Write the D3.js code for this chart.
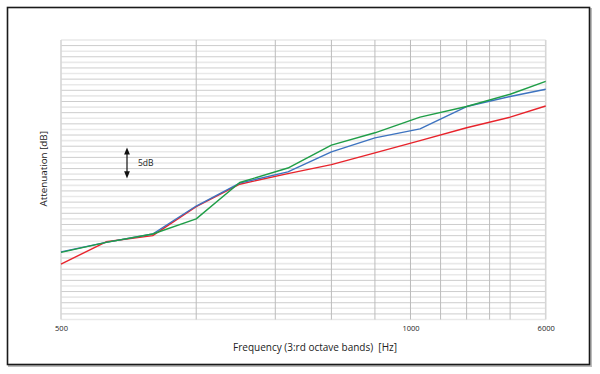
<!DOCTYPE html>
<html>
<head>
<meta charset="utf-8">
<script src="https://cdn.jsdelivr.net/npm/d3@7"></script>
<style>
  html, body { margin: 0; padding: 0; background: #fff; }
  svg { display: block; }
  text { font-family: "Open Sans", "DejaVu Sans", sans-serif; fill: #222; }
</style>
</head>
<body>
<svg id="chart" width="600" height="374"></svg>
<script>
// ---- data ----
const frequencies = [500, 630, 800, 1000, 1250, 1600, 2000, 2500, 3150, 4000, 5000, 6000];
const redValues   = [9.9, 13.9, 15.0, 20.2, 24.2, 26.1, 27.7, 29.8, 32.0, 34.3, 36.2, 38.2];
const blueValues  = [12.1, 13.8, 15.3, 20.3, 24.4, 26.4, 30.0, 32.5, 34.1, 38.1, 39.9, 41.2];
const greenValues = [12.0, 13.8, 15.3, 18.0, 24.5, 27.1, 31.2, 33.4, 36.2, 38.1, 40.3, 42.6];
const xGridValues = [1000, 1500, 2000, 2500, 3000, 3500, 4000, 4500, 5000];
const xTickValues = [500, 3000, 6000];
const xTickLabels = ["500", "1000", "6000"];
const yGridValues = d3.range(0, 51, 1);
const scaleArrowFrom = 25.5;   // 5 dB indicator
const scaleArrowTo = 30.5;

const svg = d3.select("#chart");

// outer frame with shadow
svg.append("rect").attr("x", 9).attr("y", 9).attr("width", 582).attr("height", 357)
  .attr("fill", "none").attr("stroke", "#bbb").attr("stroke-width", 2);
svg.append("rect").attr("x", 7.5).attr("y", 7.5).attr("width", 582).attr("height", 357)
  .attr("fill", "#fff").attr("stroke", "#1a1a1a").attr("stroke-width", 1.6);

const x = d3.scaleLog().domain([500, 6000]).range([61, 545.7]);
const y = d3.scaleLinear().domain([0, 50]).range([319.5, 40]);

// horizontal grid
const g = svg.append("g");
g.selectAll("line.h").data(yGridValues).enter().append("line")
  .attr("x1", x(500)).attr("x2", x(6000))
  .attr("y1", d => y(d)).attr("y2", d => y(d))
  .attr("stroke", d => d % 2 === 1 ? "#cdcdcd" : "#e9e9e9")
  .attr("stroke-width", d => d % 2 === 1 ? 1 : 1.6);

// vertical grid
g.selectAll("line.v").data(xGridValues).enter().append("line")
  .attr("x1", d => x(d)).attr("x2", d => x(d))
  .attr("y1", y(50)).attr("y2", y(0))
  .attr("stroke", "#bcbcbc").attr("stroke-width", 1);

// plot edges
[500, 6000].forEach(v => {
  g.append("line").attr("x1", x(v)).attr("x2", x(v)).attr("y1", y(50)).attr("y2", y(0))
    .attr("stroke", "#d6d6d6").attr("stroke-width", 1.6);
});

// x tick labels
const xAxis = d3.axisBottom(x).tickValues(xTickValues)
  .tickFormat((d, i) => xTickLabels[i]).tickSize(0).tickPadding(0);
const ax = svg.append("g").attr("transform", `translate(0,${y(0) + 6})`).call(xAxis);
ax.select(".domain").remove();
ax.selectAll("text").attr("font-size", "7.5px").attr("fill", "#333")
  .style("font-family", '"Open Sans", sans-serif');

// lines
const line = d3.line().x((d, i) => x(frequencies[i])).y(d => y(d));
const series = [
  { values: redValues, color: "#e8232b" },
  { values: blueValues, color: "#3d73c0" },
  { values: greenValues, color: "#1f9e47" }
];
series.forEach(s => {
  svg.append("path").datum(s.values).attr("d", line)
    .attr("fill", "none").attr("stroke", s.color).attr("stroke-width", 1.4)
    .attr("stroke-linejoin", "round");
});

// 5 dB indicator
const defs = svg.append("defs");
defs.append("marker").attr("id", "ah").attr("viewBox", "0 0 10 10")
  .attr("refX", 5).attr("refY", 5).attr("markerWidth", 6).attr("markerHeight", 6)
  .attr("orient", "auto-start-reverse")
  .append("path").attr("d", "M0,1 L10,5 L0,9 z").attr("fill", "#111");
svg.append("line").attr("x1", 127).attr("x2", 127)
  .attr("y1", y(scaleArrowTo) + 2).attr("y2", y(scaleArrowFrom) - 2)
  .attr("stroke", "#111").attr("stroke-width", 1.2)
  .attr("marker-start", "url(#ah)").attr("marker-end", "url(#ah)");
svg.append("text").attr("x", 138).attr("y", (y(scaleArrowTo) + y(scaleArrowFrom)) / 2 + 3)
  .attr("font-size", "8.5px").text("5dB");

// axis titles
svg.append("text").attr("transform", `translate(47,${(y(0) + y(50)) / 2 - 11}) rotate(-90)`)
  .attr("text-anchor", "middle").attr("font-size", "9.8px").text("Attenuation [dB]");
svg.append("text").attr("x", 315).attr("y", 351)
  .attr("text-anchor", "middle").attr("font-size", "10px")
  .attr("xml:space", "preserve").style("white-space", "pre")
  .text("Frequency (3:rd octave bands)  [Hz]");
</script>
</body>
</html>
